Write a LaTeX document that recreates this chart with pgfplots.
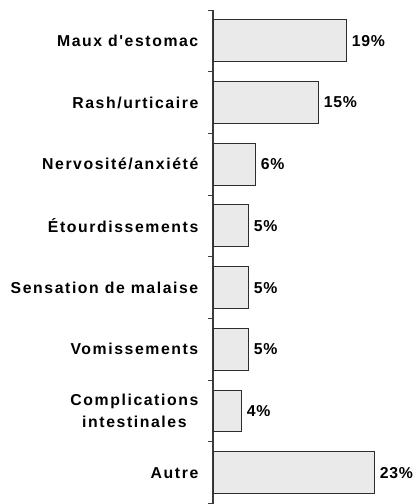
\documentclass[border=0pt]{standalone}
\usepackage{fontspec}
\setmainfont{Liberation Sans}
\newfontfamily\labfont{Liberation Sans}[LetterSpace=10]
\newfontfamily\numfont{Liberation Sans}[LetterSpace=4]
\usepackage{pgfplots}
\pgfplotsset{compat=1.18}
\definecolor{barfill}{RGB}{234,234,234}
\definecolor{bardraw}{RGB}{45,45,45}
\definecolor{axisgray}{RGB}{60,60,60}
\begin{document}
\begin{tikzpicture}
\useasboundingbox (0,0) rectangle (414bp,504bp);
\begin{axis}[
  at={(213bp,0.5bp)}, anchor=south west,
  scale only axis, width=196bp, height=493.5bp,
  xbar, xmin=0, xmax=28,
  ymin=-0.5, ymax=7.5, y dir=reverse,
  bar width=0.68,
  separate axis lines,
  axis x line=none, axis y line*=left,
  y axis line style={draw=axisgray, line width=1.6bp},
  ytick={0,...,7},
  yticklabels={Maux d'estomac,Rash/urticaire,Nervosité/anxiété,Étourdissements,Sensation de malaise,Vomissements,{Complications\\intestinales},Autre},
  major tick length=0pt,
  minor ytick={-0.5,0.5,...,7.5},
  minor tick length=5bp, tick align=outside,
  minor tick style={draw=axisgray, line width=1bp},
  yticklabel style={align=center, inner sep=0pt, xshift=-14.5bp,
    font=\labfont\bfseries\fontsize{15.8bp}{21.7bp}\selectfont, text=black},
  /pgf/number format/assume math mode=true,
  point meta=x,
  nodes near coords={\pgfmathprintnumber{\pgfplotspointmeta}\%},
  nodes near coords style={anchor=west, inner sep=0pt, xshift=5.5bp,
    font=\numfont\bfseries\fontsize{15.8bp}{18bp}\selectfont, text=black},
  clip=false,
]
\addplot[fill=barfill, draw=bardraw, line width=0.9bp] coordinates {
  (19,0) (15,1) (6,2) (5,3) (5,4) (5,5) (4,6) (23,7)
};
\end{axis}
\end{tikzpicture}
\end{document}
